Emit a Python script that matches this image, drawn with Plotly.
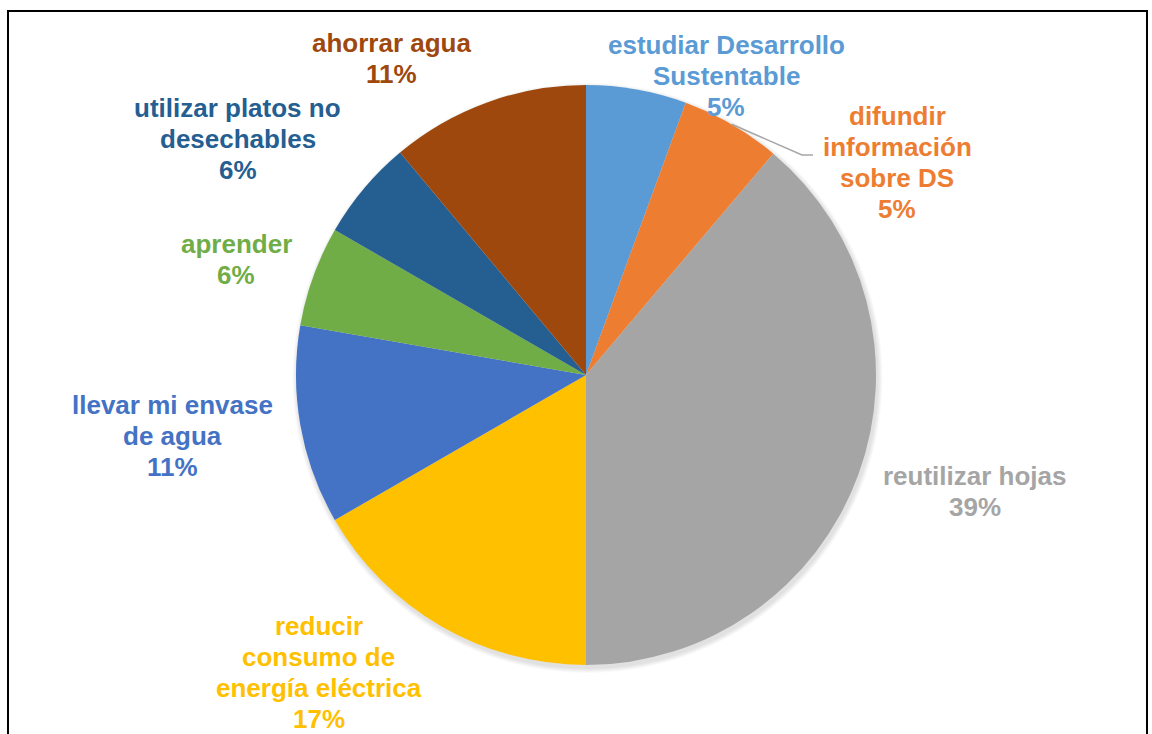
import math
import plotly.graph_objects as go

# slices clockwise from 12 o'clock
categories = [
    "estudiar Desarrollo<br>Sustentable",
    "difundir<br>información<br>sobre DS",
    "reutilizar hojas",
    "reducir<br>consumo de<br>energía eléctrica",
    "llevar mi envase<br>de agua",
    "aprender",
    "utilizar platos no<br>desechables",
    "ahorrar agua",
]
shares = [5.6, 5.6, 38.9, 16.7, 11.1, 5.6, 5.6, 11.1]
shown_pct = ["5%", "5%", "39%", "17%", "11%", "6%", "6%", "11%"]

colors = ["#5B9BD5", "#ED7D31", "#A5A5A5", "#FFC000",
          "#4472C4", "#70AD47", "#255E91", "#9E480E"]

# label placement: radius factor and angle shift from slice middle (deg)
lab_r = [1.14, 1.30, 1.40, 1.38, 1.44, 1.27, 1.45, 1.28]
lab_shift = [15, 25.5, -3.4, 11.9, 1.6, -1.7, -6, -11.6]
LINE_H = 31

W, H = 1152, 734
L, R, T, B = 296, 276, 85, 69
PW = W - L - R
PH = H - T - B


def px_to_paper(x, y):
    return (x - L) / PW, (H - B - y) / PH


fig = go.Figure(go.Pie(
    values=shares,
    labels=[c.replace("<br>", " ") for c in categories],
    marker=dict(colors=colors, line=dict(width=0)),
    sort=False,
    direction="clockwise",
    rotation=0,
    textinfo="none",
    hoverinfo="label+percent",
))

total = sum(shares)
annotations = []
cum = 0
mids = []
for i, v in enumerate(shares):
    mid = (cum + v / 2) / total * 360
    mids.append(mid)
    cum += v
    ang = math.radians(mid + lab_shift[i])
    x = 0.5 + 0.5 * lab_r[i] * math.sin(ang)
    y = 0.5 + 0.5 * lab_r[i] * math.cos(ang)
    lines = categories[i].split("<br>") + [shown_pct[i]]
    n = len(lines)
    for k, ln in enumerate(lines):
        annotations.append(dict(
            x=x, y=y, xref="paper", yref="paper",
            yshift=((n - 1) / 2 - k) * LINE_H,
            text=ln, showarrow=False, align="center",
            xanchor="center", yanchor="middle",
            font=dict(family="Liberation Sans, Arial", size=26,
                      color=colors[i], weight="bold"),
        ))

# leader line for "difundir información sobre DS"
a = math.radians(mids[1])
sx, sy = 0.5 + 0.5 * math.sin(a), 0.5 + 0.5 * math.cos(a)
ex, ey = px_to_paper(802, 155)
fx, fy = px_to_paper(813, 155)

fx0, fy0 = px_to_paper(8, 11)
fx1, fy1 = px_to_paper(1147, 800)

shapes = []
# soft shadow under the pie, slightly toward bottom-right
off = 3 / PW
for k in range(5, 0, -1):
    r = 0.5 + k / PW
    shapes.append(dict(type="circle", xref="paper", yref="paper", layer="below",
                       x0=0.5 - r + off / 2, x1=0.5 + r + off / 2,
                       y0=0.5 - r - off, y1=0.5 + r - off,
                       fillcolor="rgba(0,0,0,0.025)", line=dict(width=0)))
shapes += [
    dict(type="path", xref="paper", yref="paper",
         path=f"M {sx},{sy} L {ex},{ey} L {fx},{fy}",
         line=dict(color="#A6A6A6", width=1.5)),
    dict(type="rect", xref="paper", yref="paper",
         x0=fx0, y0=fy0, x1=fx1, y1=fy1,
         line=dict(color="black", width=2)),
]

fig.update_layout(
    width=W, height=H,
    margin=dict(l=L, r=R, t=T, b=B),
    paper_bgcolor="white",
    plot_bgcolor="white",
    showlegend=False,
    annotations=annotations,
    shapes=shapes,
)

fig.write_html("out.html", config={"displayModeBar": False},
               post_script="document.body.style.margin='0px';")
